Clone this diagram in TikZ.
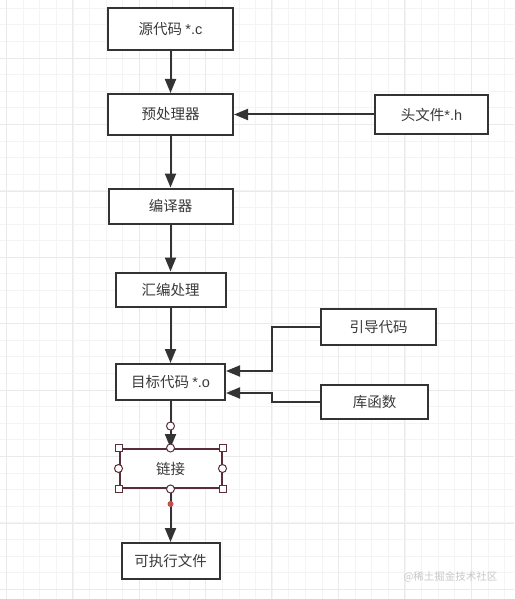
\documentclass[tikz,border=0pt]{standalone}
\usepackage{fontspec}
\setmainfont{Liberation Sans}
\newfontfamily\cjk{Noto Sans CJK SC}
\usetikzlibrary{arrows.meta}
\definecolor{gridminor}{HTML}{F4F4F4}
\definecolor{gridmajor}{HTML}{EAEAEA}
\definecolor{ink}{HTML}{333333}
\definecolor{txt}{HTML}{3A3A3A}
\definecolor{sel}{HTML}{5A2E38}
\definecolor{seldot}{HTML}{C0504D}
\definecolor{wm}{HTML}{C8C8C8}
\tikzset{
  box/.style={draw=ink, line width=2pt, fill=white, rectangle, inner sep=0pt, font=\cjk\fontsize{14.5}{15}\selectfont, text=txt},
  conn/.style={draw=ink, line width=2pt, -{Triangle[length=14pt,width=11pt]}},
  hsq/.style={draw=sel, fill=white, line width=1pt, rectangle, minimum size=7pt, inner sep=0pt},
  hci/.style={draw=sel, fill=white, line width=1pt, circle, minimum size=8pt, inner sep=0pt},
}
\begin{document}
\begin{tikzpicture}[x=1pt,y=-1pt]
\useasboundingbox (0,0) rectangle (514,599);
\fill[white] (0,0) rectangle (514,599);
% grid
\foreach \i in {0,...,31} {
  \draw[gridminor, line width=1pt] ({6.7+16.6*\i},0) -- ({6.7+16.6*\i},599);
}
\foreach \i in {0,...,36} {
  \draw[gridminor, line width=1pt] (0,{8.3+16.6*\i}) -- (514,{8.3+16.6*\i});
}
\foreach \i in {-1,...,7} {
  \draw[gridmajor, line width=1pt] ({72.7+66.4*\i},0) -- ({72.7+66.4*\i},599);
}
\foreach \i in {-1,...,8} {
  \draw[gridmajor, line width=1pt] (0,{58.3+66.4*\i}) -- (514,{58.3+66.4*\i});
}
% nodes
\node[box, minimum width=125pt, minimum height=42pt] (src) at (170.5,29) {源代码 \rmfamily*.c};
\node[box, minimum width=125pt, minimum height=41pt] (pre) at (170.5,114.5) {预处理器};
\node[box, minimum width=113pt, minimum height=39pt] (hdr) at (431.5,114.5) {头文件\rmfamily*.h};
\node[box, minimum width=124pt, minimum height=35pt] (cmp) at (170.5,206) {编译器};
\node[box, minimum width=110pt, minimum height=34pt] (asm) at (170.5,289.5) {汇编处理};
\node[box, minimum width=115pt, minimum height=36pt] (boot) at (378.5,327) {引导代码};
\node[box, minimum width=109pt, minimum height=36pt] (obj) at (170.5,382) {目标代码 \rmfamily*.o};
\node[box, minimum width=107pt, minimum height=34pt] (lib) at (374.5,402) {库函数};
\node[box, draw=sel, minimum width=102pt, minimum height=39pt] (link) at (170.5,468.5) {链接};
\node[box, minimum width=98pt, minimum height=36pt] (exe) at (170.5,561) {可执行文件};
% connectors
\draw[conn] (src) -- (pre);
\draw[conn] (hdr) -- (pre);
\draw[conn] (pre) -- (cmp);
\draw[conn] (cmp) -- (asm);
\draw[conn] (asm) -- (obj);
\coordinate (bootin) at (obj.east |- 0,371);
\coordinate (libin) at (obj.east |- 0,393);
\draw[conn] (boot.west) -| (272,371) -- (bootin);
\draw[conn] (lib.west) -| (272,393) -- (libin);
\draw[conn] (obj) -- (link);
\draw[conn] (link) -- (exe);
% selection handles
\node[hci] (hin) at (170.5,426) {};
\node[hsq] at (link.north west) {};
\node[hsq] at (link.north east) {};
\node[hsq] at (link.south west) {};
\node[hsq] at (link.south east) {};
\node[hci] at (link.north) {};
\node[hci] at (link.south) {};
\node[hci] at (link.west) {};
\node[hci] at (link.east) {};
\fill[seldot] (170.5,504) circle (3pt);
% watermark
\node[text=wm, font=\cjk\fontsize{10.5}{11}\selectfont, anchor=center] (wmk) at (450.5,577) {@稀土掘金技术社区};
\end{tikzpicture}
\end{document}
